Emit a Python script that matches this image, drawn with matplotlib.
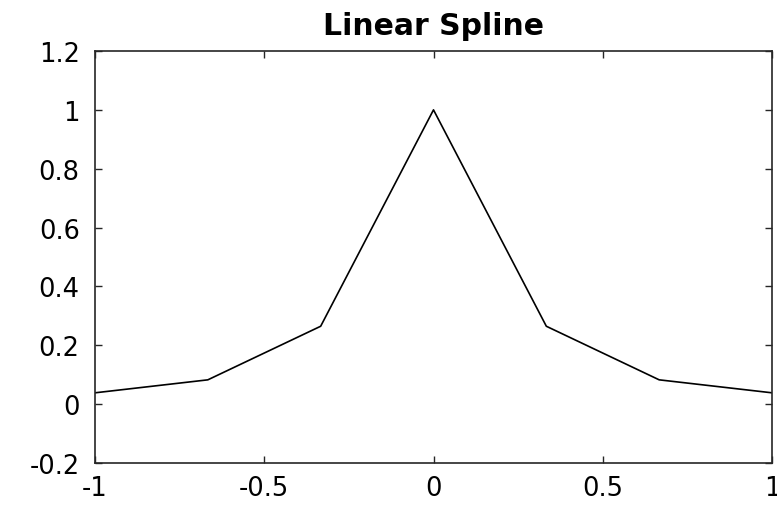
import matplotlib
matplotlib.use("Agg")
import matplotlib.pyplot as plt

# interpolation nodes and values
x_nodes = [-1.0, -2/3, -1/3, 0.0, 1/3, 2/3, 1.0]
y_nodes = [0.0385, 0.0826, 0.2647, 1.0, 0.2647, 0.0826, 0.0385]

xticks = [-1, -0.5, 0, 0.5, 1]
yticks = [-0.2, 0, 0.2, 0.4, 0.6, 0.8, 1, 1.2]

plt.rcParams['font.family'] = ['DejaVu Sans']

fig = plt.figure(figsize=(7.77, 5.06), dpi=100)
ax = fig.add_axes([95/777, 1 - 464/506, (772 - 95)/777, (464 - 52)/506])

ax.plot(x_nodes, y_nodes, color='black', linewidth=1.2)

ax.set_xlim(-1, 1)
ax.set_ylim(-0.2, 1.2)
ax.set_xticks(xticks)
ax.set_xticklabels([f"{t:g}" for t in xticks])
ax.set_yticks(yticks)
ax.set_yticklabels([f"{t:g}" for t in yticks])
ax.tick_params(direction='in', top=True, right=True, labelsize=18.5,
               length=5, width=1, color='#262626')
ax.tick_params(axis='x', pad=9)
ax.tick_params(axis='y', pad=11)
for s in ax.spines.values():
    s.set_color('#262626')
    s.set_linewidth(1.2)

ax.set_title("Linear Spline", fontsize=21.5, fontweight='bold', pad=12.5)

fig.savefig("out.png", dpi=100)
